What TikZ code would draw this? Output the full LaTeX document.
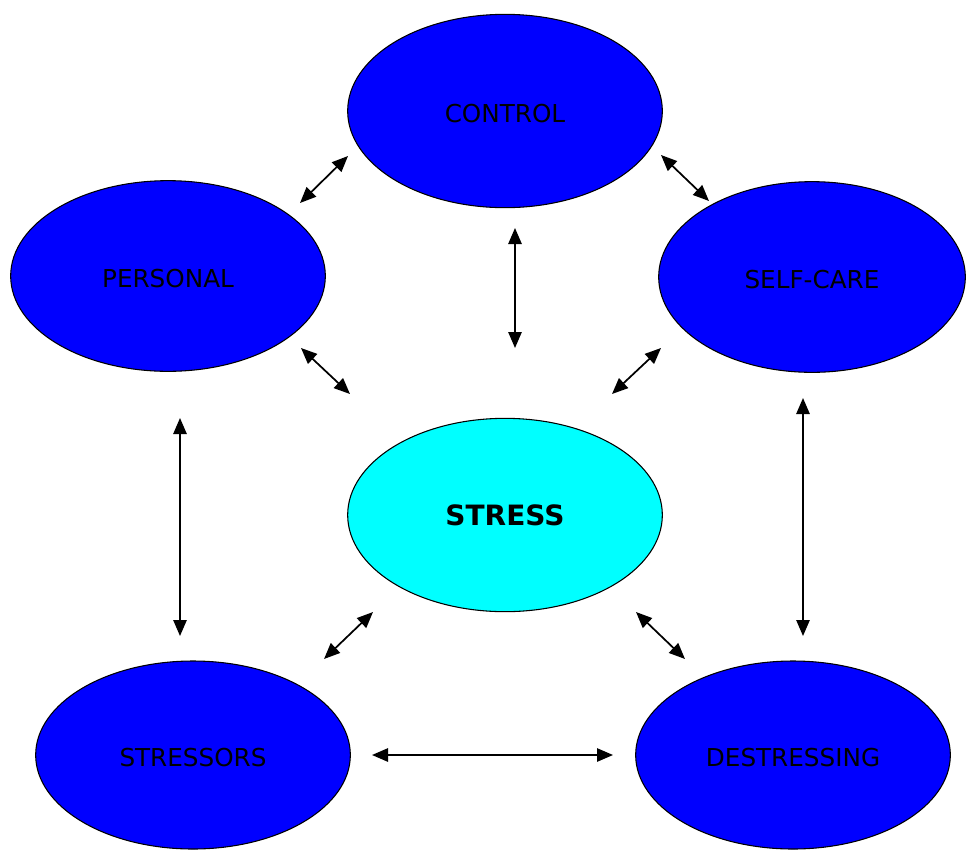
\documentclass[tikz,border=0pt]{standalone}
\usepackage{fontspec}
\setmainfont{DejaVu Sans}
\usetikzlibrary{shapes.geometric,arrows.meta}
\definecolor{ovalblue}{RGB}{0,0,255}
\definecolor{ovalcyan}{RGB}{0,255,255}
\begin{document}
\begin{tikzpicture}[x=0.75pt,y=-0.75pt,
  oval/.style={ellipse,draw=black,line width=0.8pt,fill=ovalblue,inner sep=0pt,
    minimum width=236pt,minimum height=145pt,text depth=0pt,
    font=\fontsize{18.5}{20}\selectfont},
  hub/.style={oval,fill=ovalcyan,font=\bfseries\fontsize{21}{23}\selectfont},
  link/.style={line width=1.3pt,{Triangle[length=12pt,width=10pt]}-{Triangle[length=12pt,width=10pt]}}]
\useasboundingbox (0,0) rectangle (967,850);
% ovals
\node[oval] (control) at (505,111) {\raisebox{-3pt}{CONTROL}};
\node[oval,minimum height=143pt] (personal) at (168,276) {\raisebox{-3pt}{PERSONAL}};
\node[oval,minimum width=230pt,minimum height=143pt] (selfcare) at (812,277) {\raisebox{-3pt}{SELF-CARE}};
\node[hub] (stress) at (505,515) {STRESS};
\node[oval,minimum height=141pt] (stressors) at (193,755) {\raisebox{-3pt}{STRESSORS}};
\node[oval,minimum height=141pt] (destressing) at (793,755) {\raisebox{-3pt}{DESTRESSING}};
% arrow end points
\coordinate (pc1) at (300,203); \coordinate (pc2) at (348,156);
\coordinate (cs1) at (661,155); \coordinate (cs2) at (709,201);
\coordinate (cx1) at (515,228); \coordinate (cx2) at (515,348);
\coordinate (px1) at (301,348); \coordinate (px2) at (350,394);
\coordinate (sx1) at (661,348); \coordinate (sx2) at (612,394);
\coordinate (pr1) at (180,418); \coordinate (pr2) at (180,636);
\coordinate (sd1) at (803,398); \coordinate (sd2) at (803,636);
\coordinate (xr1) at (373,612); \coordinate (xr2) at (324,659);
\coordinate (xd1) at (636,612); \coordinate (xd2) at (685,659);
\coordinate (rd1) at (372,755); \coordinate (rd2) at (613,755);
% connectors
\draw[link] (pc1) -- (pc2);
\draw[link] (cs1) -- (cs2);
\draw[link] (cx1) -- (cx2);
\draw[link] (px1) -- (px2);
\draw[link] (sx1) -- (sx2);
\draw[link] (pr1) -- (pr2);
\draw[link] (sd1) -- (sd2);
\draw[link] (xr1) -- (xr2);
\draw[link] (xd1) -- (xd2);
\draw[link] (rd1) -- (rd2);
\end{tikzpicture}
\end{document}
